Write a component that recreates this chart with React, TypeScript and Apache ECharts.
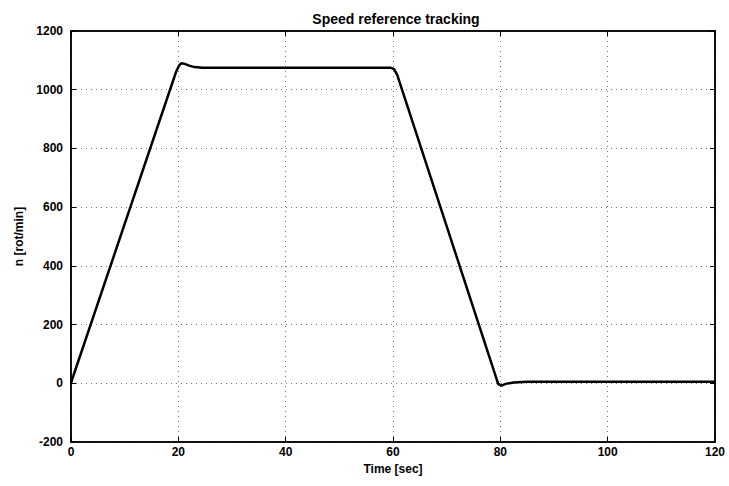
import React, { useEffect, useRef } from "react";
import * as echarts from "echarts";

// Measured speed response (time in seconds, speed in rot/min)
const timeSec = [0, 0.3, 19.6, 20.2, 20.6, 21.2, 22, 23, 24.5, 30, 40, 50, 59.5, 60.2, 60.8, 79.6, 80.2, 81, 82.5, 85, 100, 120];
const speedRpm = [0, 18, 1062, 1084, 1090, 1088, 1082, 1077, 1075, 1075, 1075, 1075, 1075, 1070, 1050, -2, -8, -2, 3, 5, 5, 5];

const xTicks = [0, 20, 40, 60, 80, 100, 120];
const yTicks = [-200, 0, 200, 400, 600, 800, 1000, 1200];

const FONT = "Liberation Sans, Arial, sans-serif";

export default function App() {
  const ref = useRef<HTMLDivElement>(null);

  useEffect(() => {
    if (!ref.current) return;
    const chart = echarts.init(ref.current, null, { renderer: "svg" });
    const tickStyle = { show: true, inside: true, length: 5, lineStyle: { color: "#000", width: 1 } };
    const gridLine = { show: true, lineStyle: { color: "#777", type: [1, 4] as any, width: 1 } };
    const labelStyle = { fontFamily: FONT, fontSize: 12, fontWeight: "bold", color: "#000" };
    chart.setOption({
      animation: false,
      backgroundColor: "#fff",
      title: {
        text: "Speed reference tracking",
        left: 391,
        top: 7,
        textAlign: "center",
        textStyle: { fontFamily: FONT, fontSize: 14, fontWeight: "bold", color: "#000" },
      },
      grid: { left: 71, right: 14, top: 31, bottom: 44, show: true, borderColor: "#000", borderWidth: 1.5 },
      xAxis: [
        {
          type: "value",
          min: xTicks[0],
          max: xTicks[xTicks.length - 1],
          interval: 20,
          name: "Time [sec]",
          nameLocation: "middle",
          nameGap: 17,
          nameTextStyle: labelStyle,
          axisLine: { show: true, onZero: false, lineStyle: { color: "#000", width: 1.5 } },
          axisTick: tickStyle,
          axisLabel: { ...labelStyle, margin: 4, formatter: (v: number) => String(v) },
          splitLine: gridLine,
        },
        {
          type: "value",
          position: "top",
          min: xTicks[0],
          max: xTicks[xTicks.length - 1],
          interval: 20,
          axisLine: { show: true, onZero: false, lineStyle: { color: "#000", width: 1.5 } },
          axisTick: tickStyle,
          axisLabel: { show: false },
          splitLine: { show: false },
        },
      ],
      yAxis: [
        {
          type: "value",
          min: yTicks[0],
          max: yTicks[yTicks.length - 1],
          interval: 200,
          name: "n [rot/min]",
          nameLocation: "middle",
          nameGap: 46,
          nameTextStyle: labelStyle,
          axisLine: { show: true, onZero: false, lineStyle: { color: "#000", width: 1.5 } },
          axisTick: tickStyle,
          axisLabel: { ...labelStyle, margin: 8, formatter: (v: number) => String(v) },
          splitLine: gridLine,
        },
        {
          type: "value",
          position: "right",
          min: yTicks[0],
          max: yTicks[yTicks.length - 1],
          interval: 200,
          axisLine: { show: true, onZero: false, lineStyle: { color: "#000", width: 1.5 } },
          axisTick: tickStyle,
          axisLabel: { show: false },
          splitLine: { show: false },
        },
      ],
      series: [
        {
          type: "line",
          data: timeSec.map((t, i) => [t, speedRpm[i]]),
          showSymbol: false,
          smooth: false,
          lineStyle: { color: "#000", width: 2.5 },
          z: 5,
        },
      ],
    });
    return () => chart.dispose();
  }, []);

  return <div ref={ref} style={{ width: 729, height: 486, position: "absolute", left: 0, top: 0 }} />;
}
